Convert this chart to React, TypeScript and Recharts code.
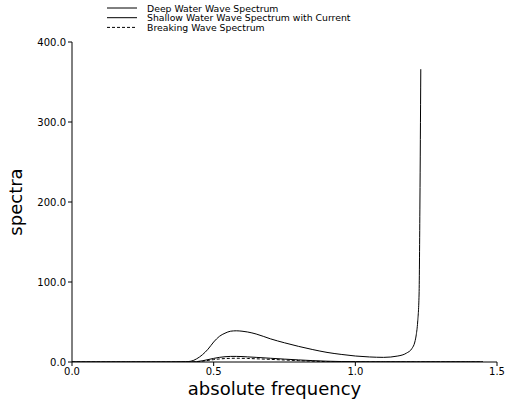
import React from 'react';
import { LineChart, Line, XAxis, YAxis } from 'recharts';

const freq = [0, 0.1, 0.2, 0.3, 0.35, 0.4, 0.42, 0.44, 0.46, 0.48, 0.5, 0.52, 0.54, 0.56, 0.58, 0.6, 0.62, 0.65, 0.7, 0.75, 0.8, 0.85, 0.9, 0.95, 1.0, 1.05, 1.1, 1.15, 1.18, 1.2, 1.21, 1.215, 1.22, 1.225, 1.228, 1.231, 1.3, 1.4, 1.45];
const shallowCurrent = [0, 0, 0, 0, 0, 0.3, 1, 4, 9, 16, 25, 32, 36, 38.5, 39, 38.5, 37.5, 35, 29, 24, 19.5, 15.5, 12, 9.5, 7.5, 6.3, 5.8, 7.5, 11, 17, 25, 34, 50, 85, 200, 366, null, null, null];
const deepWater = [0, 0, 0, 0, 0, 0, 0, 0.5, 1.5, 3, 4.5, 5.8, 6.6, 7, 7, 6.8, 6.4, 5.8, 4.7, 3.6, 2.6, 1.7, 1.0, 0.6, 0.4, 0.3, 0.3, 0.3, 0.3, 0.3, 0.3, 0.3, 0.3, 0.3, 0.3, 0.3, 0.3, 0.3, 0.2];
const breaking = [0, 0, 0, 0, 0, 0, 0, 0.3, 1, 2, 3, 3.8, 4.3, 4.6, 4.7, 4.6, 4.4, 4.0, 3.3, 2.5, 1.7, 1.0, 0.5, 0.2, 0.1, 0.1, 0.1, 0.1, 0.1, 0.1, 0.1, 0.1, 0.1, 0.1, 0.1, 0.1, 0.1, 0.1, 0.1];

const xTicks = [0, 0.5, 1.0, 1.5];
const yTicks = [0, 100, 200, 300, 400];
const legendItems = [
  { name: 'Deep Water Wave Spectrum', dash: undefined as string | undefined },
  { name: 'Shallow Water Wave Spectrum with Current', dash: undefined as string | undefined },
  { name: 'Breaking Wave Spectrum', dash: '3 2' },
];

const data = freq.map((f, i) => ({
  f,
  shallow: shallowCurrent[i],
  deep: deepWater[i],
  breaking: breaking[i],
}));

const FONT = 'DejaVu Sans';

const LegendBox = () => (
  <svg width={300} height={34} style={{ position: 'absolute', left: 105, top: 0 }}>
    {legendItems.map((it, i) => (
      <g key={it.name}>
        <line x1={2} x2={32} y1={8 + i * 9.7} y2={8 + i * 9.7} stroke="#000" strokeWidth={1} strokeDasharray={it.dash} />
        <text x={42} y={8 + i * 9.7} dominantBaseline="central" fontFamily={FONT} fontSize={9.3} fill="#000">
          {it.name}
        </text>
      </g>
    ))}
  </svg>
);

const YLabel = (props: any) => {
  const vb = props.viewBox || {};
  const x = 15;
  const y = (vb.y || 0) + (vb.height || 0) / 2;
  return (
    <text x={x} y={y} transform={`rotate(-90, ${x}, ${y})`} textAnchor="middle" dominantBaseline="central" fontFamily={FONT} fontSize={18} fill="#000">
      spectra
    </text>
  );
};

const XLabel = (props: any) => {
  const vb = props.viewBox || {};
  const x = (vb.x || 0) + (vb.width || 0) / 2 - 10;
  return (
    <text x={x} y={388} textAnchor="middle" dominantBaseline="central" fontFamily={FONT} fontSize={18} fill="#000">
      absolute frequency
    </text>
  );
};

export default function App() {
  return (
    <div style={{ position: 'absolute', left: 0, top: 0, width: 505, height: 407, background: '#fff' }}>
      <LineChart width={505} height={407} data={data} margin={{ top: 42, right: 8, bottom: 0, left: 0 }}>
        <XAxis
          dataKey="f"
          type="number"
          domain={[0, 1.5]}
          ticks={xTicks}
          tickFormatter={(v: number) => v.toFixed(1)}
          height={45}
          tickSize={4}
          tickMargin={2}
          stroke="#000"
          tick={{ fill: '#000', fontFamily: FONT, fontSize: 10 }}
          label={<XLabel />}
        />
        <YAxis
          type="number"
          domain={[0, 400]}
          ticks={yTicks}
          tickFormatter={(v: number) => v.toFixed(1)}
          width={72}
          tickSize={4}
          tickMargin={2}
          stroke="#000"
          tick={{ fill: '#000', fontFamily: FONT, fontSize: 10 }}
          label={<YLabel />}
          allowDataOverflow
        />
        <Line dataKey="shallow" type="monotone" stroke="#000" strokeWidth={1} dot={false} isAnimationActive={false} />
        <Line dataKey="deep" type="monotone" stroke="#000" strokeWidth={1} dot={false} isAnimationActive={false} />
        <Line dataKey="breaking" type="monotone" stroke="#000" strokeWidth={1} strokeDasharray="3 2" dot={false} isAnimationActive={false} />
      </LineChart>
      <LegendBox />
    </div>
  );
}
